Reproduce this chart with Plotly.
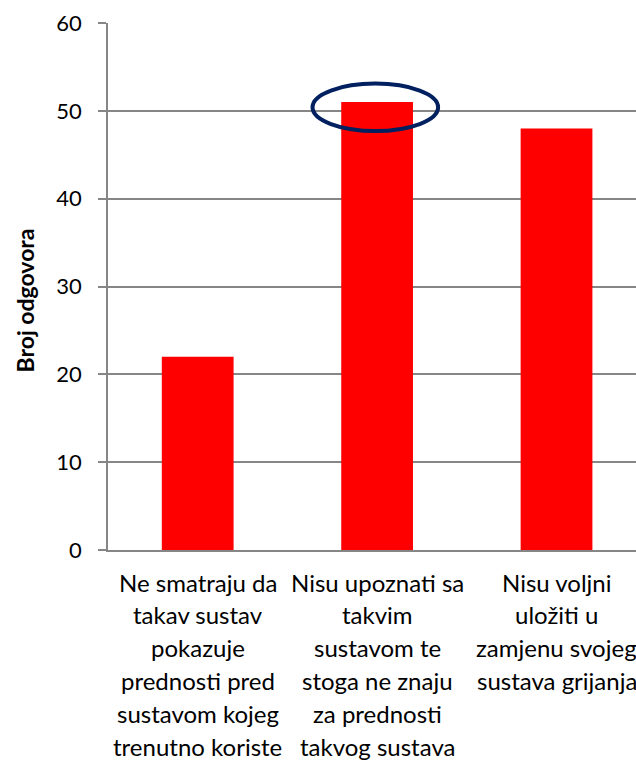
import plotly.graph_objects as go

categories = ["Ne smatraju da takav sustav pokazuje prednosti pred sustavom kojeg trenutno koriste",
              "Nisu upoznati sa takvim sustavom te stoga ne znaju za prednosti takvog sustava",
              "Nisu voljni uložiti u zamjenu svojeg sustava grijanja"]
label_lines = [
    ["Ne smatraju da", "takav sustav", "pokazuje", "prednosti pred", "sustavom kojeg", "trenutno koriste"],
    ["Nisu upoznati sa", "takvim", "sustavom te", "stoga ne znaju", "za prednosti", "takvog sustava"],
    ["Nisu voljni", "uložiti u", "zamjenu svojeg", "sustava grijanja"],
]
values = [22, 51, 48]
y_ticks = [0, 10, 20, 30, 40, 50, 60]
y_title = "Broj odgovora"
highlight_index = 1

FONT = "Lato"
x_idx = list(range(len(categories)))

fig = go.Figure()
fig.add_trace(go.Bar(x=x_idx, y=values, marker=dict(color="#FF0000", line=dict(width=0)),
                     width=0.4, hoverinfo="skip"))

# category labels, line by line
for i, lines in enumerate(label_lines):
    for j, t in enumerate(lines):
        fig.add_annotation(x=i, y=0, xref="x", yref="paper", text=t, showarrow=False,
                           yshift=-32 - j * 32.8, yanchor="middle", xanchor="center",
                           font=dict(family=FONT, size=24, color="#000000"))

# highlight ellipse around the top of the highlighted bar
v = values[highlight_index]
fig.add_shape(type="circle", xref="x", yref="y",
              x0=highlight_index - 0.36, x1=highlight_index + 0.34,
              y0=v - 3.3, y1=v + 2.1,
              line=dict(color="#002060", width=4), fillcolor="rgba(0,0,0,0)")

fig.add_annotation(text="<b>" + y_title + "</b>", xref="paper", yref="paper",
                   x=0, y=0.5, yshift=-14, xshift=-84, textangle=-90, showarrow=False,
                   xanchor="center", yanchor="middle",
                   font=dict(family=FONT, size=23, color="#000000"))

fig.update_layout(
    width=636, height=760,
    margin=dict(l=108, r=0, t=23, b=210),
    plot_bgcolor="white", paper_bgcolor="white",
    showlegend=False,
    xaxis=dict(range=[-0.5, 2.443], showticklabels=False, ticks="",
               showline=True, linecolor="#868686", linewidth=1.5, showgrid=False,
               zeroline=False, fixedrange=True),
    yaxis=dict(range=[0, 60], tickvals=y_ticks, ticks="outside", ticklen=8,
               tickcolor="#868686", tickwidth=1.5,
               showline=True, linecolor="#868686", linewidth=1.5,
               showgrid=True, gridcolor="#868686", gridwidth=1.5, zeroline=False,
               tickfont=dict(family=FONT, size=22, color="#000000"),
               ticklabelstandoff=12, fixedrange=True),
)

fig.write_html("out.html", config={"displayModeBar": False},
               post_script="document.body.style.margin='0';")
